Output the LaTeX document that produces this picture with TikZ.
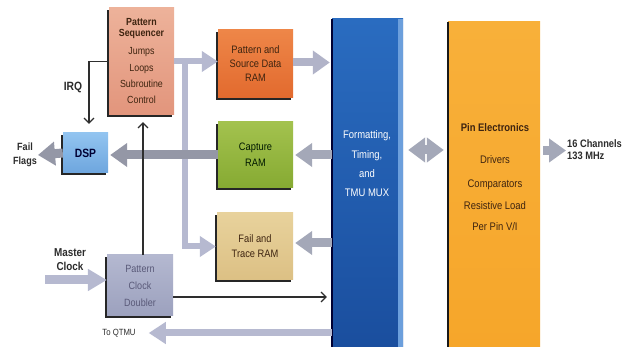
\documentclass[tikz,border=0pt]{standalone}
\usepackage{fontspec}
\setmainfont{Liberation Sans}[FakeStretch=0.86]
\usetikzlibrary{arrows.meta,shadows}

\definecolor{seqtop}{HTML}{EDB29A}
\definecolor{seqbot}{HTML}{E2957C}
\definecolor{pramtop}{HTML}{EE8648}
\definecolor{prambot}{HTML}{E26A2E}
\definecolor{cramtop}{HTML}{A3C24E}
\definecolor{crambot}{HTML}{86AA32}
\definecolor{framtop}{HTML}{E8D29C}
\definecolor{frambot}{HTML}{DCC084}
\definecolor{dsptop}{HTML}{92C4F0}
\definecolor{dspbot}{HTML}{6EA6DE}
\definecolor{dbltop}{HTML}{B4B8D0}
\definecolor{dblbot}{HTML}{9CA1BE}
\definecolor{fmttop}{HTML}{2A6CC0}
\definecolor{fmtbot}{HTML}{1A4E9E}
\definecolor{fmtedge}{HTML}{6C9FDC}
\definecolor{pinfill}{HTML}{F6A62A}
\definecolor{pintop}{HTML}{F8B03A}
\definecolor{fatgray}{HTML}{A4A8B8}
\definecolor{lavgray}{HTML}{B6B9D0}
\definecolor{thinline}{HTML}{2E2E2E}
\definecolor{labeltext}{HTML}{2C2C2C}
\definecolor{browntext}{HTML}{3E2410}

\begin{document}
\begin{tikzpicture}[x=1pt,y=-1pt,
  block/.style={rectangle, inner sep=0pt, align=center,
    drop shadow={shadow xshift=-1.6pt, shadow yshift=-2.2pt, fill=black!85, opacity=1}},
  boxtext/.style={font=\fontsize{10.8}{14}\selectfont},
  lbl/.style={inner sep=1pt, align=center, text=labeltext,
    font=\fontsize{11}{13.5}\selectfont\bfseries},
  fat/.style={line width=9pt, draw=fatgray, -{Triangle[length=17pt,width=23pt]}},
  slim/.style={line width=6pt, draw=lavgray, -{Triangle[length=16pt,width=20pt]}},
  thin/.style={line width=1.1pt, draw=thinline, -{Straight Barb[length=5pt,width=10pt]}}
]
\useasboundingbox (0,0) rectangle (625,347);
\fill[white] (0,0) rectangle (625,347);

% ---- functional blocks ----
\node[block, top color=seqtop, bottom color=seqbot, minimum width=65pt, minimum height=107pt,
      text=browntext, font=\fontsize{10.3}{11}\selectfont] (seq) at (141.5,61.5)
  {{\bfseries Pattern}\\{\bfseries Sequencer}\\[7pt]Jumps\\[5.5pt]Loops\\[5.5pt]Subroutine\\[5pt]Control};

\node[block, boxtext, top color=pramtop, bottom color=prambot, minimum width=75pt, minimum height=68pt,
      text=browntext] (pram) at (255.5,64) {Pattern and\\Source Data\\RAM};

\node[block, top color=cramtop, bottom color=crambot, minimum width=75pt, minimum height=66pt,
      text={black!75!green!40!black}, font=\fontsize{10.8}{16}\selectfont] (cram) at (255.5,155) {Capture\\RAM};

\node[block, top color=framtop, bottom color=frambot, minimum width=76pt, minimum height=67pt,
      text=browntext, font=\fontsize{10.8}{15}\selectfont] (fram) at (255,246.5) {Fail and\\Trace RAM};

\node[block, top color=dsptop, bottom color=dspbot, minimum width=45pt, minimum height=40pt,
      text={black!80!blue}, font=\fontsize{12}{13}\selectfont\bfseries] (dsp) at (85.5,153) {DSP};

\node[block, top color=dbltop, bottom color=dblbot, minimum width=66pt, minimum height=61pt,
      text={black!60!blue!30!gray}, font=\fontsize{10.5}{17}\selectfont] (dbl) at (140,285.5) {Pattern\\Clock\\Doubler};

% formatting / timing column
\node[rectangle, inner sep=0pt, top color=fmttop, bottom color=fmtbot,
      minimum width=71pt, minimum height=330pt] (fmt) at (367.5,184) {};
\fill[fmtedge] ([xshift=-5pt]fmt.north east) rectangle (fmt.south east);
\draw[line width=1.6pt, black!80!blue] (fmt.north west) -- (fmt.south west);
\node[text=white, align=center, font=\fontsize{11}{19.3}\selectfont] (fmtlbl) at (367,164)
  {Formatting,\\Timing,\\and\\TMU MUX};

% pin electronics column
\node[rectangle, inner sep=0pt, top color=pintop, bottom color=pinfill,
      minimum width=92pt, minimum height=327pt] (pin) at (494,185.5) {};
\draw[line width=2.2pt, black!90] (pin.north west) -- (pin.south west);
\node[text=browntext, font=\fontsize{11}{13}\selectfont\bfseries] (pinttl) at (495,128) {Pin Electronics};
\node[text=browntext, align=center, font=\fontsize{11}{21.5}\selectfont] (pinlist) at (495,193)
  {Drivers\\[3pt]Comparators\\Resistive Load\\Per Pin V/I};

% ---- outside labels ----
\node[lbl, font=\fontsize{12}{14}\selectfont\bfseries] (irq) at (73,87) {IRQ};
\node[lbl, font=\fontsize{10.5}{14}\selectfont\bfseries] (flags) at (25,155) {Fail\\Flags};
\node[lbl, font=\fontsize{11.5}{14}\selectfont\bfseries] (mclk) at (70,260) {Master\\Clock};
\node[lbl, align=left, anchor=west, font=\fontsize{10.8}{12.5}\selectfont\bfseries] (chan) at (566,149.5) {16 Channels\\133 MHz};
\node[inner sep=1pt, text=labeltext, font=\fontsize{9}{12}\selectfont] (qtmu) at (119,333) {To QTMU};

\coordinate (mclkin) at (45,280);
\coordinate (tap) at (185,61.5);
\coordinate (irqturn) at (89,61.5);

% ---- wide data-path arrows ----
\draw[slim] (seq.east) -- (seq.east -| pram.west);
\draw[slim, line join=miter] (tap) -- (tap |- fram.west) -- ([xshift=-1pt]fram.west);
\draw[fat, draw=lavgray!90!gray, line width=8pt, shorten >=2pt] ([yshift=1.5pt]pram.east) -- ([yshift=1.5pt]pram.east -| fmt.west);
\draw[fat, shorten >=2pt] (fmt.west |- cram.west) -- (cram.east);
\draw[fat, draw=fatgray!90!black, shorten >=2pt] (cram.west) -- (cram.west -| dsp.east);
\draw[fat, draw=fatgray!90!black] (dsp.west) -- (flags.east);
\draw[fat, shorten >=2pt] ([yshift=3.5pt]fmt.west |- fram.west) -- ([yshift=3.5pt]fram.east);
\draw[fat, {Triangle[length=17pt,width=24pt]}-{Triangle[length=17pt,width=24pt]},
      shorten <=5pt, shorten >=4pt] ([yshift=34pt]fmt.east) -- ([yshift=34pt]fmt.east -| pin.west);
\draw[fat, shorten <=3pt] ([yshift=35pt]pin.east) -- ([yshift=35pt]pin.east -| chan.west);
\draw[fat, draw=lavgray, -{Triangle[length=19pt,width=21pt]}] (mclkin) -- (mclkin -| dbl.west);
\draw[slim, line width=7pt, -{Triangle[length=17pt,width=21pt]}, shorten >=12pt]
  (fmt.west |- qtmu.east) -- (qtmu.east);

% ---- control lines ----
\draw[thin, shorten >=9pt] (seq.west) -- (irqturn) -- (irqturn |- dsp.north);
\draw[thin, shorten >=7pt] ([xshift=3pt]dbl.north) -- ([xshift=3pt]dbl.north |- seq.south);
\draw[thin, shorten >=5pt] ([yshift=-11.5pt]dbl.east) -- ([yshift=-11.5pt]dbl.east -| fmt.west);
\end{tikzpicture}
\end{document}
